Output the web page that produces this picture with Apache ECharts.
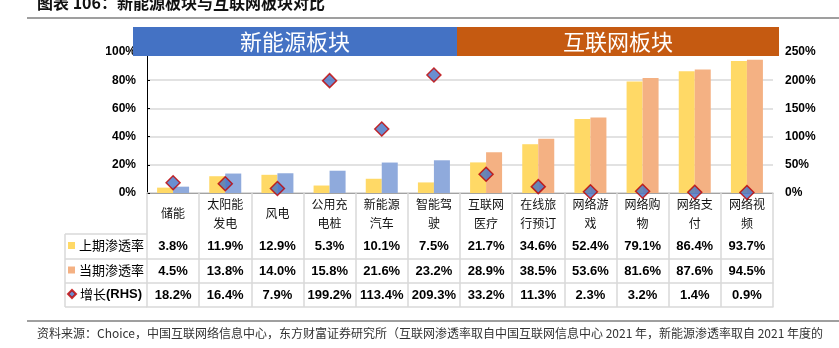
<!DOCTYPE html>
<html>
<head>
<meta charset="utf-8">
<script src="https://cdn.jsdelivr.net/npm/echarts@6/dist/echarts.min.js"></script>
<style>
html,body{margin:0;padding:0;background:#fff;}
#c{width:839px;height:348px;}
</style>
</head>
<body>
<div id="c"></div>
<script>
var categories = ['储能','太阳能发电','风电','公用充电桩','新能源汽车','智能驾驶','互联网医疗','在线旅行预订','网络游戏','网络购物','网络支付','网络视频'];
var prevRate = [3.8, 11.9, 12.9, 5.3, 10.1, 7.5, 21.7, 34.6, 52.4, 79.1, 86.4, 93.7];
var currRate = [4.5, 13.8, 14.0, 15.8, 21.6, 23.2, 28.9, 38.5, 53.6, 81.6, 87.6, 94.5];
var growth = [18.2, 16.4, 7.9, 199.2, 113.4, 209.3, 33.2, 11.3, 2.3, 3.2, 1.4, 0.9];
var newEnergyCount = 6;
var leftTicks = [0, 20, 40, 60, 80, 100];
var rightTicks = [0, 50, 100, 150, 200, 250];

var FONT = '"Liberation Sans", Arial, "Noto Sans CJK SC", sans-serif';
var CJK = '"Noto Sans CJK SC", "Liberation Sans", sans-serif';
var GRAYLINE = '#D9D9D9';

function pct(v){ return v.toFixed(1) + '%'; }
function catLabel(s){ return s.length > 3 ? s.slice(0,3) + '\n' + s.slice(3) : s; }

var chart = echarts.init(document.getElementById('c'), null, {renderer:'canvas'});

function tableAxis(data, offset, showLabel){
  return {
    type:'category', data:data, position:'bottom', offset:offset, gridIndex:0,
    axisLine:{show:true, lineStyle:{color:GRAYLINE, width:1.5}},
    axisTick:{show:false},
    splitLine:{show:false},
    axisLabel:{show:showLabel, interval:0, margin:12.5, verticalAlign:'middle',
      fontFamily:FONT, fontSize:13, fontWeight:'bold', color:'#000'}
  };
}

var option = {
  animation:false,
  backgroundColor:'#fff',
  grid:{left:147, right:66, top:52, height:141, containLabel:false},
  xAxis:[
    {
      type:'category', data:categories, position:'bottom',
      axisLine:{show:true, lineStyle:{color:'#000', width:1}},
      axisTick:{show:true, interval:0, length:114, lineStyle:{color:GRAYLINE, width:1.5}},
      splitLine:{show:false},
      axisLabel:{interval:0, margin:20.5, verticalAlign:'middle', lineHeight:19,
        fontFamily:CJK, fontSize:12, color:'#111', formatter:catLabel}
    },
    tableAxis(prevRate.map(pct), 41, true),
    tableAxis(currRate.map(pct), 66, true),
    tableAxis(growth.map(pct), 90, true),
    tableAxis(categories.map(function(){return '';}), 114, false)
  ],
  yAxis:[
    {
      type:'value', min:leftTicks[0], max:leftTicks[leftTicks.length-1], interval:20,
      axisLine:{show:true, lineStyle:{color:'#000', width:1}},
      axisTick:{show:true, inside:true, length:3, lineStyle:{color:'#000'}},
      splitLine:{show:true, lineStyle:{color:GRAYLINE, width:1.5}},
      axisLabel:{margin:11, fontFamily:FONT, fontSize:12, fontWeight:'bold', color:'#000',
        formatter:function(v){return v + '%';}}
    },
    {
      type:'value', min:rightTicks[0], max:rightTicks[rightTicks.length-1], interval:50,
      position:'right',
      axisLine:{show:false}, axisTick:{show:false}, splitLine:{show:false},
      axisLabel:{margin:12, fontFamily:FONT, fontSize:12, fontWeight:'bold', color:'#000',
        formatter:function(v){return v + '%';}}
    }
  ],
  legend:[
    {data:[{name:'上期渗透率', icon:'rect'}], orient:'vertical', left:68, top:239, padding:0, itemWidth:7, itemHeight:7, itemGap:0,
      textStyle:{fontFamily:CJK, fontSize:13, color:'#000', padding:[0,0,0,-1]}},
    {data:[{name:'当期渗透率', icon:'rect'}], orient:'vertical', left:68, top:263.5, padding:0, itemWidth:7, itemHeight:7, itemGap:0,
      textStyle:{fontFamily:CJK, fontSize:13, color:'#000', padding:[0,0,0,-1]}},
    {data:[{name:'增长(RHS)', icon:'diamond'}], orient:'vertical', left:67, top:287.5, padding:0, itemWidth:8, itemHeight:8, itemGap:0,
      formatter:function(n){ return '{c|增长}{b|(RHS)}'; },
      textStyle:{fontFamily:CJK, fontSize:13, color:'#000', padding:[0,0,0,-1],
        rich:{c:{fontFamily:CJK, fontSize:13, color:'#000'}, b:{fontFamily:FONT, fontSize:13, fontWeight:'bold', color:'#000'}}}}
  ],
  series:[
    {
      name:'上期渗透率', type:'bar', xAxisIndex:0, yAxisIndex:0, data:prevRate,
      barWidth:16, barGap:'0%', itemStyle:{color:'#FFD966'}, z:2
    },
    {
      name:'当期渗透率', type:'bar', xAxisIndex:0, yAxisIndex:0,
      data:currRate.map(function(v,i){
        return i < newEnergyCount ? {value:v, itemStyle:{color:'#8FAADC'}} : v;
      }),
      barWidth:16, barGap:'0%', itemStyle:{color:'#F4B183'}, z:2
    },
    {
      name:'增长(RHS)', type:'scatter', xAxisIndex:0, yAxisIndex:1, data:growth,
      symbol:'diamond', symbolSize:14,
      itemStyle:{color:'#4472C4', borderColor:'#C00000', borderWidth:1.5}, z:5
    }
  ],
  graphic:[
    {type:'text', left:37, top:-5, style:{text:'图表 106：新能源板块与互联网板块对比', fontFamily:CJK, fontSize:16, fontWeight:'bold', fill:'#111'}},
    {type:'line', shape:{x1:27, y1:18, x2:839, y2:18}, style:{stroke:'#7F7F7F', lineWidth:1.5}},
    {type:'rect', shape:{x:133, y:27, width:324, height:29}, style:{fill:'#4472C4'}, z:10},
    {type:'rect', shape:{x:457, y:27, width:322, height:29}, style:{fill:'#C55A11'}, z:10},
    {type:'text', x:295, y:41.5, style:{text:'新能源板块', fontFamily:CJK, fontSize:22, fill:'#fff', align:'center', verticalAlign:'middle'}, z:11},
    {type:'text', x:618, y:41.5, style:{text:'互联网板块', fontFamily:CJK, fontSize:22, fill:'#fff', align:'center', verticalAlign:'middle'}, z:11},
    {type:'line', shape:{x1:65, y1:234, x2:147, y2:234}, style:{stroke:GRAYLINE, lineWidth:1.5}},
    {type:'line', shape:{x1:65, y1:259, x2:147, y2:259}, style:{stroke:GRAYLINE, lineWidth:1.5}},
    {type:'line', shape:{x1:65, y1:283, x2:147, y2:283}, style:{stroke:GRAYLINE, lineWidth:1.5}},
    {type:'line', shape:{x1:65, y1:307, x2:147, y2:307}, style:{stroke:GRAYLINE, lineWidth:1.5}},
    {type:'line', shape:{x1:65, y1:234, x2:65, y2:307}, style:{stroke:GRAYLINE, lineWidth:1.5}},
    {type:'line', shape:{x1:27, y1:321, x2:839, y2:321}, style:{stroke:'#7F7F7F', lineWidth:1.5}},
    {type:'text', left:37, top:327, style:{text:'资料来源：Choice，中国互联网络信息中心，东方财富证券研究所（互联网渗透率取自中国互联网信息中心 2021 年，新能源渗透率取自 2021 年度的', fontFamily:CJK, fontSize:12, fill:'#333'}}
  ]
};
chart.setOption(option);
</script>
</body>
</html>
